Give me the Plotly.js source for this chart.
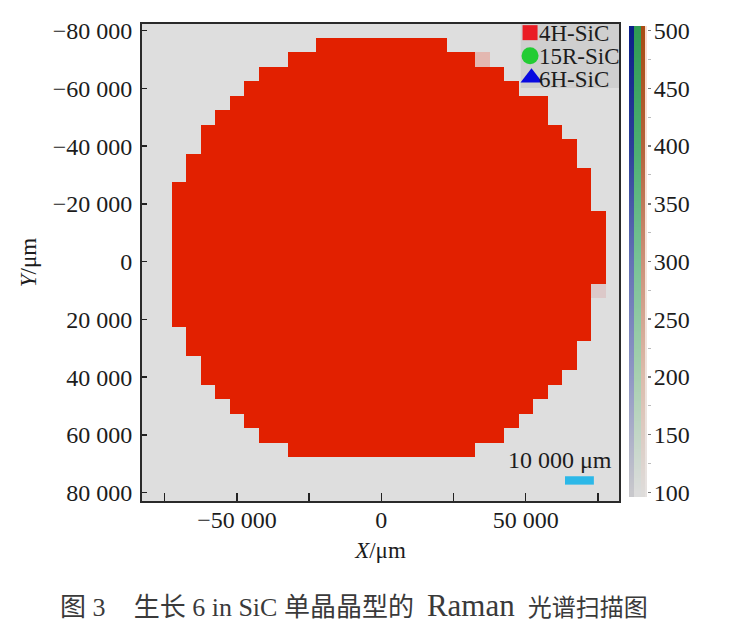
<!DOCTYPE html>
<html>
<head>
<meta charset="utf-8">
<script src="https://cdn.plot.ly/plotly-3.0.1.min.js"></script>
<style>html,body{margin:0;padding:0;background:#fff}</style>
</head>
<body>
<div id="chart" style="width:736px;height:632px"></div>
<script>
// Scan grid (um): 5 000 um pitch
const rowY      = [-75000,-70000,-65000,-60000,-55000,-50000,-45000,-40000,-35000,-30000,-25000,-20000,-15000,-10000,-5000,0,5000,10000,15000,20000,25000,30000,35000,40000,45000,50000,55000,60000,65000];
const rowFirstX = [-20000,-30000,-40000,-45000,-50000,-55000,-60000,-60000,-65000,-65000,-70000,-70000,-70000,-70000,-70000,-70000,-70000,-70000,-70000,-70000,-65000,-65000,-60000,-60000,-55000,-50000,-45000,-40000,-30000];
const rowLastX  = [20000,30000,40000,45000,55000,55000,60000,65000,65000,70000,70000,70000,75000,75000,75000,75000,75000,70000,70000,70000,70000,65000,65000,60000,55000,50000,45000,40000,30000];
const peak4H = 500;
const paleCellX = [35000, 75000];
const paleCellY = [-70000, 10000];
const paleCellZ = [165, 130];

const seriesNames = ['4H-SiC','15R-SiC','6H-SiC'];
const xTicks = [-75000,-50000,-25000,0,25000,50000,75000];
const xTickText = ['','−50 000','','0','','50 000',''];
const yTicks = [-80000,-60000,-40000,-20000,0,20000,40000,60000,80000];
const yTickText = ['−80 000','−60 000','−40 000','−20 000','0','20 000','40 000','60 000','80 000'];
const barTicks = [100,150,200,250,300,350,400,450,500];
const barLevels = [100,200,300,400,500];

const FONT = '"Liberation Serif","Noto Sans CJK SC",serif';
const INK = '#1c1c1c';
const W = 477, TOTAL = 505, H = 477;

const xs = [], ys = [];
for (let v = -80000; v <= 80000; v += 5000) { xs.push(v); ys.push(v); }
const z = ys.map(() => xs.map(() => null));
rowY.forEach((y, r) => {
  const row = z[ys.indexOf(y)];
  xs.forEach((x, c) => { if (x >= rowFirstX[r] && x <= rowLastX[r]) row[c] = peak4H; });
});
paleCellX.forEach((x, i) => { z[ys.indexOf(paleCellY[i])][xs.indexOf(x)] = paleCellZ[i]; });

const map = {
  type: 'heatmap', x: xs, y: ys, z: z, zmin: 100, zmax: 500, showscale: false, hoverongaps: false,
  colorscale: [[0,'#dedede'],[0.08,'#dcc8c8'],[0.16,'#e3b8b2'],[1,'#e22000']]
};

// colour bar: four stripes stacked side by side
function stripe(left, right, scale) {
  const w = right - left;
  return {
    type: 'heatmap', xaxis: 'x2', yaxis: 'y2', x: [left + w/4, left + 3*w/4], y: barLevels,
    z: barLevels.map(v => [v, v]), zmin: 100, zmax: 500, zsmooth: 'best', showscale: false, colorscale: scale
  };
}
const stripes = [
  stripe(0, 5,  [[0,'#c8c8cc'],[0.25,'#9098c4'],[0.5,'#6472b4'],[0.75,'#2c4098'],[1,'#0c2088']]),
  stripe(5, 12, [[0,'#dcdcdc'],[0.25,'#a8d0b0'],[0.5,'#78c296'],[0.75,'#4cb070'],[1,'#309c54']]),
  stripe(12, 16,[[0,'#dedcda'],[0.25,'#dcbcac'],[0.5,'#cc9078'],[0.75,'#b4623a'],[1,'#a84c14']]),
  stripe(16, 18,[[0,'#e6e2e0'],[0.5,'#f6e4da'],[1,'#fbdccf']])
];

const legendSymbols = ['square','circle','triangle-up'];
const legendColors = ['#ea1c24','#22cc33','#0808e0'];
const legendSizes = [15,17,19];
const legendXpos = [51500,51500,52000];
const legendYpos = [-79300,-71300,-63700];
const legendMarks = seriesNames.map((n,i) => ({
  type:'scatter', mode:'markers', name:n, x:[legendXpos[i]], y:[legendYpos[i]], showlegend:false,
  marker:{symbol:legendSymbols[i], color:legendColors[i], size:legendSizes[i], line:{width:0}}
}));
const legendLabelY = [-79100,-71000,-63100];
const annotations = seriesNames.map((n,i) => ({
  xref:'x', yref:'y', x:54000, y:legendLabelY[i], text:n, showarrow:false, xanchor:'left', yanchor:'middle',
  font:{family:FONT,size:23,color:INK}
}));
annotations.push({xref:'x', yref:'y', x:80500, y:68500, text:'10 000 μm', showarrow:false, xanchor:'right', yanchor:'middle',
  font:{family:FONT,size:24,color:INK}});

const layout = {
  width:736, height:632, paper_bgcolor:'#ffffff', plot_bgcolor:'#dedede', showlegend:false,
  margin:{l:142,r:89,t:24,b:131,pad:0},
  font:{family:FONT,size:24,color:INK},
  title:{text:'图 3\u2003\u200a生长 6 in SiC 单晶晶型的\u2002<span style="font-size:31px">Raman</span>\u2002<span style="font-size:24px">光谱扫描图</span>', x:60/736, xanchor:'left', xref:'container', y:1-607/632, yanchor:'middle', yref:'container',
    font:{family:FONT,size:26,color:'#3a3a3a'}},
  xaxis:{domain:[0,W/TOTAL], range:[-82860,82300], tickmode:'array', tickvals:xTicks, ticktext:xTickText, ticks:'inside', ticklen:8, tickwidth:1.5, tickcolor:'#222',
    showgrid:false, zeroline:false, showline:true, linecolor:'#2a2a2a', linewidth:2, mirror:true, ticklabelstandoff:-4,
    title:{text:'<i>X</i>/μm', font:{family:FONT,size:23,color:INK}, standoff:10}, automargin:false, tickfont:{family:FONT,size:24,color:INK}},
  yaxis:{range:[82870,-82300], tickmode:'array', tickvals:yTicks, ticktext:yTickText, ticks:'inside', ticklen:5, tickwidth:1.5, tickcolor:'#222',
    showgrid:false, zeroline:false, showline:true, linecolor:'#2a2a2a', linewidth:2, mirror:true, ticklabelstandoff:3,
    title:{text:'<i>Y</i>/μm', font:{family:FONT,size:23,color:INK}, standoff:10}, automargin:false, tickfont:{family:FONT,size:24,color:INK}},
  xaxis2:{domain:[487/TOTAL,1], range:[0,18], anchor:'y2', showticklabels:false, ticks:'', showgrid:false, zeroline:false, showline:false},
  yaxis2:{domain:[4/H,475/H], range:[96,504], anchor:'x2', side:'right', tickmode:'array', tickvals:barTicks, ticks:'outside', ticklen:3, tickwidth:1.5, tickcolor:'#777',
    minor:{tickmode:'array', tickvals:[125,175,225,275,325,375,425,475], ticks:'outside', ticklen:3, tickwidth:1, tickcolor:'#bbb'},
    showgrid:false, zeroline:false, showline:false, ticklabelstandoff:-2, tickfont:{family:FONT,size:24,color:INK}},
  shapes:[
    {type:'rect', layer:'between', xref:'x', yref:'y', x0:48300, x1:82300, y0:-82300, y1:-60100, fillcolor:'#cfcfcf', line:{width:0}},
    {type:'rect', layer:'above', xref:'x', yref:'y', x0:63600, x1:73600, y0:74300, y1:77200, fillcolor:'#2cb8e8', line:{width:0}}
  ],
  annotations: annotations
};
Plotly.newPlot('chart',[map].concat(stripes, legendMarks),layout,{displayModeBar:false,staticPlot:true});
</script>
</body>
</html>
